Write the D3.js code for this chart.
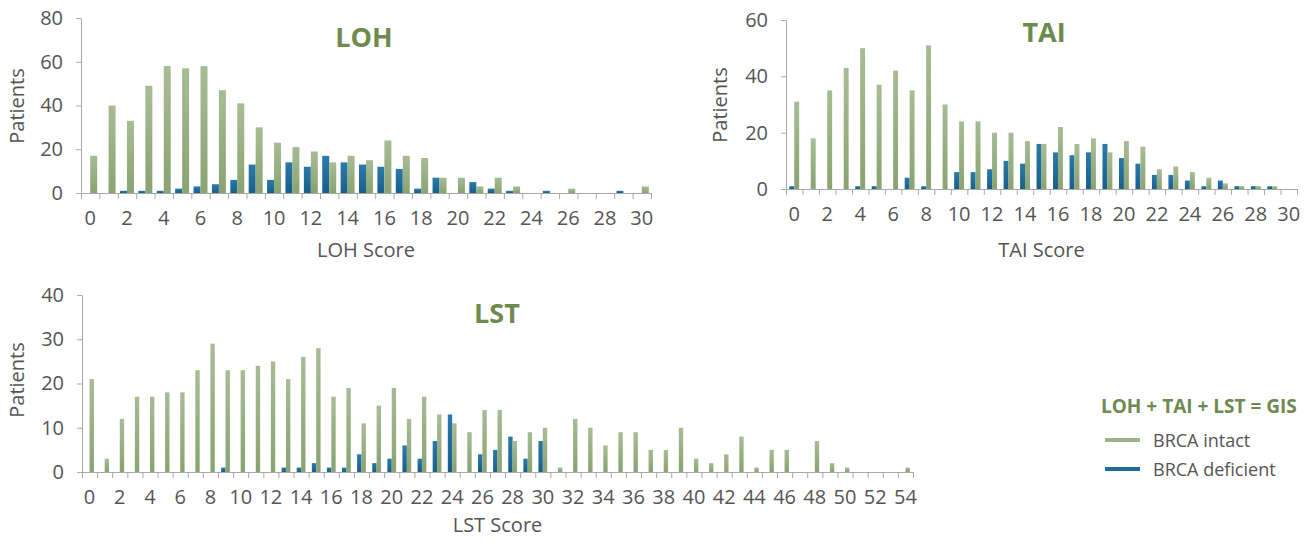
<!DOCTYPE html>
<html><head><meta charset="utf-8">
<script src="https://cdn.jsdelivr.net/npm/d3@7"></script>
<style>
body{margin:0;background:#fff;}
svg{display:block;font-family:"Open Sans",sans-serif;}
</style>
</head><body>
<svg id="chart" width="1314" height="542"></svg>
<script>
// ---------- DATA ----------
const lohScores = d3.range(0, 31);
const lohIntact    = [17,40,33,49,58,57,58,47,41,30,23,21,19,14,17,15,24,17,16,7,7,3,7,3,0,0,2,0,0,0,3];
const lohDeficient = [0,0,1,1,1,2,3,4,6,13,6,14,12,17,14,13,12,11,2,7,0,5,2,1,0,1,0,0,0,1,0];

const taiScores = d3.range(0, 31);
const taiIntact    = [31,18,35,43,50,37,42,35,51,30,24,24,20,20,17,16,22,16,18,13,17,15,7,8,6,4,2,1,1,1,0];
const taiDeficient = [1,0,0,0,1,1,0,4,1,0,6,6,7,10,9,16,13,12,13,16,11,9,5,5,3,1,3,1,1,1,0];

const lstScores = d3.range(0, 55);
const lstIntact    = [21,3,12,17,17,18,18,23,29,23,23,24,25,21,26,28,17,19,11,15,19,12,17,13,11,9,14,14,7,9,10,1,12,10,6,9,9,5,5,10,3,2,4,8,1,5,5,0,7,2,1,0,0,0,1];
const lstDeficient = [0,0,0,0,0,0,0,0,0,1,0,0,0,1,1,2,1,1,4,2,3,6,3,7,13,0,4,5,8,3,7,0,0,0,0,0,0,0,0,0,0,0,0,0,0,0,0,0,0,0,0,0,0,0,0];

const lohYTicks = [0,20,40,60,80];
const taiYTicks = [0,20,40,60];
const lstYTicks = [0,10,20,30,40];

const seriesNames = ["BRCA deficient", "BRCA intact"];
const legendTitle = "LOH + TAI + LST = GIS";

// ---------- STYLE ----------
const GREEN = "#9db48a", BLUE = "#1f6b9a", TITLE = "#6e8a4e", AXIS = "#a9a9a9", TXT = "#555";

const svg = d3.select("#chart");
const defs = svg.append("defs");
function grad(id, c1, c2){
  const g = defs.append("linearGradient").attr("id", id).attr("x1",0).attr("x2",0).attr("y1",0).attr("y2",1);
  g.append("stop").attr("offset","0%").attr("stop-color", c1);
  g.append("stop").attr("offset","100%").attr("stop-color", c2);
}
grad("gGreen", "#a7bc95", "#8aa372");
grad("gBlue", "#2a7aab", "#175f8a");

function panel(o){
  const g = svg.append("g");
  const x = d3.scaleBand().domain(o.cats).range([o.x0, o.x1]).padding(0);
  const y = d3.scaleLinear().domain([0, o.ymax]).range([o.y0, o.y1]);
  const bw = x.bandwidth() * o.barFrac;
  const sub = d3.scaleBand().domain(seriesNames).range([x.bandwidth()/2 - bw, x.bandwidth()/2 + bw]);

  // y axis
  const ya = g.append("g").attr("transform", `translate(${o.x0},0)`)
    .call(d3.axisLeft(y).tickValues(o.yticks).tickSize(5).tickSizeOuter(0).tickPadding(13));
  ya.select(".domain").attr("stroke", AXIS);
  ya.selectAll(".tick line").attr("stroke", AXIS);
  ya.selectAll(".tick text").attr("fill", TXT).style("font-size","20px").style("font-family","Open Sans");

  // x axis: boundary ticks
  const xe = d3.scaleLinear().domain([0, o.cats.length]).range([o.x0, o.x1]);
  const xa = g.append("g").attr("transform", `translate(0,${o.y0})`)
    .call(d3.axisBottom(xe).tickValues(d3.range(0, o.cats.length + 1)).tickSize(6).tickSizeOuter(0).tickFormat(""));
  xa.select(".domain").attr("stroke", AXIS);
  xa.selectAll(".tick line").attr("stroke", AXIS);

  // x labels at centers
  const xl = g.append("g").attr("transform", `translate(0,${o.y0})`)
    .call(d3.axisBottom(x).tickValues(o.cats.filter(d => d % 2 === 0)).tickSize(0).tickPadding(18));
  xl.select(".domain").remove();
  xl.selectAll(".tick text").attr("fill", TXT).style("font-size","20px").style("font-family","Open Sans");

  // bars
  const rows = o.cats.map((c, i) => ({c, vals: [
    {k: seriesNames[0], v: o.def[i]}, {k: seriesNames[1], v: o.intact[i]}]}));
  const grp = g.selectAll("g.cat").data(rows).join("g").attr("class","cat")
    .attr("transform", d => `translate(${x(d.c)},0)`);
  grp.selectAll("rect").data(d => d.vals.filter(v => v.v > 0)).join("rect")
    .attr("x", d => sub(d.k))
    .attr("width", sub.bandwidth())
    .attr("y", d => y(d.v))
    .attr("height", d => y(0) - y(d.v))
    .attr("fill", d => d.k === seriesNames[0] ? "url(#gBlue)" : "url(#gGreen)");

  // titles
  g.append("text").attr("x", o.tx).attr("y", o.ty).attr("text-anchor","middle")
    .attr("fill", TITLE).style("font-weight","bold").style("font-size","27px").text(o.title);
  g.append("text").attr("x", (o.x0 + o.x1)/2).attr("y", o.xly).attr("text-anchor","middle")
    .attr("fill", TXT).style("font-size","20px").text(o.xlabel);
  g.append("text").attr("transform", `translate(${o.ylx},${o.yly}) rotate(-90)`).attr("text-anchor","middle")
    .attr("fill", TXT).style("font-size","20px").text("Patients");
}

panel({cats: lohScores, intact: lohIntact, def: lohDeficient, ymax: 80, yticks: lohYTicks,
  x0: 81, x1: 651, y0: 193, y1: 18, barFrac: 0.38, title: "LOH", tx: 364, ty: 47,
  xlabel: "LOH Score", xly: 257, ylx: 24, yly: 106});
panel({cats: taiScores, intact: taiIntact, def: taiDeficient, ymax: 60, yticks: taiYTicks,
  x0: 786, x1: 1297, y0: 189, y1: 20, barFrac: 0.3, title: "TAI", tx: 1044, ty: 42,
  xlabel: "TAI Score", xly: 257, ylx: 727, yly: 105});
panel({cats: lstScores, intact: lstIntact, def: lstDeficient, ymax: 40, yticks: lstYTicks,
  x0: 82, x1: 913, y0: 472, y1: 295, barFrac: 0.29, title: "LST", tx: 497, ty: 323,
  xlabel: "LST Score", xly: 532, ylx: 24, yly: 380});

// legend
const lg = svg.append("g");
lg.append("text").attr("x", 1101).attr("y", 413).attr("fill", TITLE)
  .style("font-weight","bold").style("font-size","19px").text(legendTitle);
const items = [{name: seriesNames[1], c: GREEN}, {name: seriesNames[0], c: BLUE}];
const li = lg.selectAll("g.li").data(items).join("g").attr("class","li")
  .attr("transform", (d,i) => `translate(1105,${440 + i*29})`);
li.append("line").attr("x1",0).attr("x2",35).attr("y1",0).attr("y2",0)
  .attr("stroke", d => d.c).attr("stroke-width", 4);
li.append("text").attr("x", 48).attr("y", 6.5).attr("fill", TXT).style("font-size","18px").text(d => d.name);
</script>
</body></html>
